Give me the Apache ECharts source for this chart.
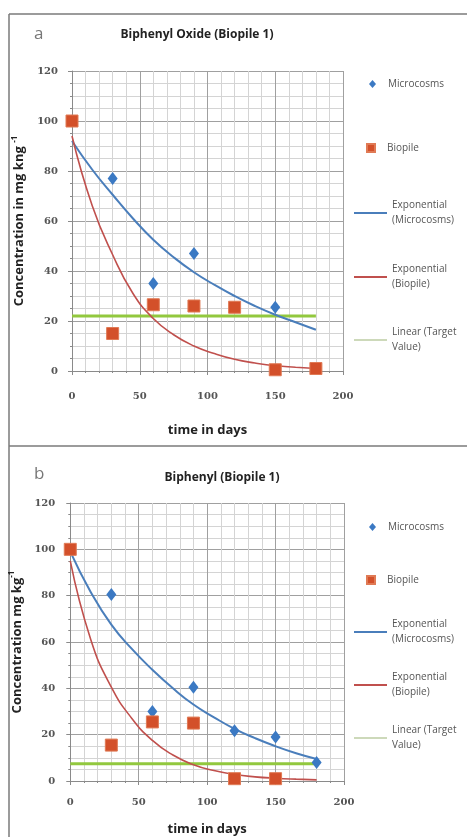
<!DOCTYPE html>
<html>
<head>
<meta charset="utf-8">
<style>
  html, body { margin: 0; padding: 0; background: #fff; }
  #chart-container { width: 467px; height: 837px; }
</style>
</head>
<body>
<div id="chart-container"></div>
<script src="https://cdn.jsdelivr.net/npm/echarts@6/dist/echarts.min.js"></script>
<script>
var dom = document.getElementById('chart-container');
var myChart = echarts.init(dom, null, { renderer: 'canvas' });

// panel a - Biphenyl Oxide
var microA = [[0, 100], [30, 77], [60, 35], [90, 47], [150, 25.5]];
var biopileA = [[0, 100], [30, 15], [60, 26.5], [90, 26], [120, 25.5], [150, 0.5], [180, 1]];
var trendDays = [0, 15, 30, 45, 60, 75, 90, 105, 120, 135, 150, 165, 180];
var expMicroA = [92, 80.5, 70.5, 61, 52.5, 45.5, 39.5, 34.5, 30, 26, 22.5, 19.5, 16.5];
var expBioA = [94, 66, 46.5, 31, 21, 14.5, 10, 7, 4.7, 3.2, 2.1, 1.5, 1];
var targetA = 22;

// panel b - Biphenyl
var microB = [[0, 100], [30, 80.5], [60, 30], [90, 40.5], [120, 21.7], [150, 19], [180, 8]];
var biopileB = [[0, 100], [30, 15.5], [60, 25.5], [90, 25], [120, 1], [150, 1]];
var expMicroB = [99, 81.5, 67.5, 57, 48, 40, 33, 27.5, 22.5, 18.5, 15, 12, 9.5];
var expBioB = [95, 61, 40.5, 27, 17.5, 11.2, 7, 4.5, 2.8, 1.8, 1.2, 0.8, 0.5];
var targetB = 7.5;

var targetDays = [0, 180];

var blue = '#3b79c3';
var red = '#d3502a';
var blueLine = '#4a7ebb';
var redLine = '#c0504d';
var green = '#92c83e';
var font = 'Open Sans';
// a plain line icon: 33x14 box with a 2px bar in the middle (corner dots keep the box size)
var lineIcon = 'path://M0,6h33v2h-33z M0,0h0.01v0.01h-0.01z M33,14h-0.01v-0.01h0.01z';

function pairs(xs, ys) {
  return xs.map(function (x, i) { return [x, ys[i]]; });
}
function flat(y) {
  return targetDays.map(function (x) { return [x, y]; });
}

function xAxis(idx, gap, labelMargin) {
  return {
    type: 'value', gridIndex: idx, min: 0, max: 200, interval: 50,
    name: 'time in days', nameLocation: 'middle', nameGap: gap,
    nameTextStyle: { fontFamily: font, fontWeight: 'bold', fontSize: 13, color: '#222' },
    axisLine: { lineStyle: { color: '#8a8a8a' } },
    axisTick: { show: true, length: 4, lineStyle: { color: '#8a8a8a' } },
    minorTick: { show: true, splitNumber: 5, length: 2 },
    splitLine: { lineStyle: { color: '#a0a0a0' } },
    minorSplitLine: { show: true, lineStyle: { color: '#d4d4d4' } },
    axisLabel: { margin: labelMargin, fontFamily: 'DejaVu Serif', fontWeight: 'bold', fontSize: 10, color: '#555' }
  };
}
function yAxis(idx, name, gap, labelMargin) {
  return {
    type: 'value', gridIndex: idx, min: 0, max: 120, interval: 20,
    name: name, nameLocation: 'middle', nameGap: gap,
    nameTextStyle: {
      fontFamily: font, fontWeight: 'bold', fontSize: 13, color: '#222',
      rich: {
        b: { fontFamily: font, fontWeight: 'bold', fontSize: 13, color: '#222', lineHeight: 18 },
        sup: { fontFamily: font, fontWeight: 'bold', fontSize: 8, color: '#222', verticalAlign: 'top', lineHeight: 18 }
      }
    },
    axisLine: { show: true, lineStyle: { color: '#8a8a8a' } },
    axisTick: { show: true, length: 4, lineStyle: { color: '#8a8a8a' } },
    minorTick: { show: true, splitNumber: 4, length: 2 },
    splitLine: { lineStyle: { color: '#a0a0a0' } },
    minorSplitLine: { show: true, lineStyle: { color: '#d4d4d4' } },
    axisLabel: { margin: labelMargin, fontFamily: 'DejaVu Serif', fontWeight: 'bold', fontSize: 10, color: '#555' }
  };
}

function panelSeries(idx, micro, bio, expMicro, expBio, target) {
  return [
    { name: 'Exponential (Microcosms)', type: 'line', xAxisIndex: idx, yAxisIndex: idx, smooth: true,
      symbol: 'none', data: pairs(trendDays, expMicro), lineStyle: { color: blueLine, width: 2 },
      itemStyle: { color: blueLine }, z: 3 },
    { name: 'Exponential (Biopile)', type: 'line', xAxisIndex: idx, yAxisIndex: idx, smooth: true,
      symbol: 'none', data: pairs(trendDays, expBio), lineStyle: { color: redLine, width: 1.6 },
      itemStyle: { color: redLine }, z: 3 },
    { name: 'Linear (Target Value)', type: 'line', xAxisIndex: idx, yAxisIndex: idx,
      symbol: 'none', data: flat(target), lineStyle: { color: green, width: 3 },
      itemStyle: { color: green }, z: 2 },
    { name: 'Microcosms', type: 'scatter', xAxisIndex: idx, yAxisIndex: idx, symbol: 'diamond',
      symbolSize: [10, 13], data: micro, itemStyle: { color: blue, opacity: 1 }, z: 4 },
    { name: 'Biopile', type: 'scatter', xAxisIndex: idx, yAxisIndex: idx, symbol: 'rect',
      symbolSize: 12, data: bio, itemStyle: { color: red, borderColor: '#e07a55', borderWidth: 1, opacity: 1 }, z: 5 }
  ];
}

var legendText = {
  'Microcosms': 'Microcosms',
  'Biopile': 'Biopile',
  'Exponential (Microcosms)': 'Exponential\n(Microcosms)',
  'Exponential (Biopile)': 'Exponential\n(Biopile)',
  'Linear (Target Value)': 'Linear (Target\nValue)'
};
function legendItem(name, left, top, w, h, icon, extra) {
  var d = { name: name, icon: icon };
  if (extra) for (var k in extra) d[k] = extra[k];
  var twoLines = legendText[name].indexOf('\n') >= 0;
  return {
    data: [d], left: left, top: top, padding: 0, itemWidth: w, itemHeight: h,
    selectedMode: false,
    formatter: function (n) { return legendText[n]; },
    textStyle: { fontFamily: font, fontSize: 10, color: '#555', lineHeight: 15,
      padding: twoLines ? [15, 0, 0, 0] : [0, 0, 0, 7] }
  };
}
function panelLegends(mY, bY, l1, l2, l3) {
  return [
    legendItem('Microcosms', 369, mY - 7.5, 7, 8, 'diamond'),
    legendItem('Biopile', 366, bY - 7.5, 8, 8, 'rect'),
    legendItem('Exponential (Microcosms)', 354, l1 - 22.5, 33, 14, lineIcon),
    legendItem('Exponential (Biopile)', 354, l2 - 22.5, 33, 14, lineIcon,
      { itemStyle: { color: redLine } }),
    legendItem('Linear (Target Value)', 354, l3 - 22.5, 33, 14, lineIcon,
      { itemStyle: { color: '#cdd9ba' } })
  ];
}

var option = {
  animation: false,
  backgroundColor: '#fff',
  grid: [
    { left: 72, top: 71, width: 271, height: 300 },
    { left: 67, top: 503, width: 277, height: 278 }
  ],
  xAxis: [xAxis(0, 53, 20), xAxis(1, 42, 16)],
  yAxis: [
    yAxis(0, '{b|Concentration in mg kng }{sup|-1}', 42, 14),
    yAxis(1, '{b|Concentration mg kg}{sup|-1}', 36, 15)
  ],
  legend: panelLegends(84, 148, 213, 277, 340).concat(panelLegends(527, 580, 632, 685, 738)),
  graphic: [
    { type: 'line', shape: { x1: 9, y1: 14, x2: 467, y2: 14 }, style: { stroke: '#7a7a7a', lineWidth: 1.5 } },
    { type: 'line', shape: { x1: 9, y1: 14, x2: 9, y2: 837 }, style: { stroke: '#7a7a7a', lineWidth: 1.5 } },
    { type: 'line', shape: { x1: 9, y1: 446, x2: 467, y2: 446 }, style: { stroke: '#7a7a7a', lineWidth: 1.5 } },
    { type: 'text', x: 34, y: 34, style: { text: 'a', fontFamily: font, fontSize: 17, fill: '#777', verticalAlign: 'middle' } },
    { type: 'text', x: 34, y: 474, style: { text: 'b', fontFamily: font, fontSize: 17, fill: '#777', verticalAlign: 'middle' } },
    { type: 'text', x: 197, y: 35, style: { text: 'Biphenyl Oxide (Biopile 1)', fontFamily: font, fontWeight: 'bold',
      fontSize: 12, fill: '#222', align: 'center', verticalAlign: 'middle' } },
    { type: 'text', x: 222, y: 478, style: { text: 'Biphenyl (Biopile 1)', fontFamily: font, fontWeight: 'bold',
      fontSize: 12, fill: '#222', align: 'center', verticalAlign: 'middle' } }
  ],
  series: panelSeries(0, microA, biopileA, expMicroA, expBioA, targetA)
    .concat(panelSeries(1, microB, biopileB, expMicroB, expBioB, targetB))
};

if (option && typeof option === 'object') {
  myChart.setOption(option);
}

window.addEventListener('resize', myChart.resize);
</script>
</body>
</html>
